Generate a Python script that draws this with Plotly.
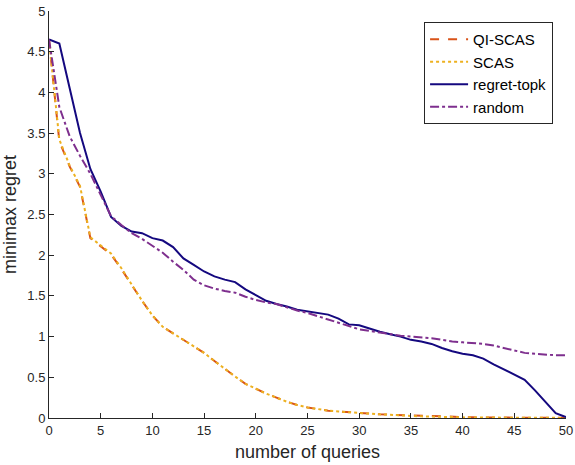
import plotly.graph_objects as go

queries = list(range(51))

qi_scas = [4.65, 3.40, 3.09, 2.84, 2.21, 2.11, 2.01, 1.83, 1.63, 1.44, 1.26,
           1.12, 1.04, 0.96, 0.88, 0.80, 0.70, 0.60, 0.51, 0.42, 0.36,
           0.30, 0.25, 0.20, 0.16, 0.13, 0.11, 0.09, 0.08, 0.07, 0.06,
           0.05, 0.045, 0.04, 0.035, 0.03, 0.025, 0.02, 0.015, 0.012, 0.01,
           0.008, 0.006, 0.005, 0.004, 0.004, 0.003, 0.003, 0.002, 0.002, 0.002]

scas = [4.65, 3.42, 3.10, 2.85, 2.22, 2.12, 2.02, 1.84, 1.64, 1.44, 1.26,
        1.12, 1.04, 0.96, 0.88, 0.80, 0.70, 0.60, 0.51, 0.42, 0.36,
        0.30, 0.25, 0.20, 0.16, 0.13, 0.11, 0.09, 0.08, 0.07, 0.06,
        0.05, 0.045, 0.04, 0.03, 0.025, 0.02, 0.015, 0.012, 0.01, 0.008,
        0.006, 0.005, 0.004, 0.003, 0.003, 0.002, 0.002, 0.001, 0.001, 0.001]

regret_topk = [4.65, 4.60, 4.05, 3.50, 3.06, 2.78, 2.47, 2.36, 2.29, 2.27, 2.21,
               2.18, 2.10, 1.96, 1.88, 1.80, 1.74, 1.70, 1.67, 1.58, 1.51,
               1.44, 1.40, 1.37, 1.33, 1.31, 1.29, 1.27, 1.22, 1.15, 1.14,
               1.10, 1.06, 1.03, 1.00, 0.96, 0.94, 0.91, 0.86, 0.82, 0.79,
               0.77, 0.73, 0.66, 0.60, 0.53, 0.47, 0.34, 0.20, 0.06, 0.01]

random_q = [4.65, 3.82, 3.46, 3.22, 3.00, 2.73, 2.48, 2.37, 2.27, 2.20, 2.12,
            2.03, 1.92, 1.82, 1.70, 1.63, 1.59, 1.56, 1.54, 1.49, 1.45,
            1.42, 1.40, 1.36, 1.32, 1.29, 1.25, 1.21, 1.17, 1.13, 1.09,
            1.07, 1.05, 1.03, 1.01, 1.00, 0.99, 0.98, 0.96, 0.94, 0.93,
            0.92, 0.91, 0.89, 0.86, 0.83, 0.80, 0.79, 0.78, 0.77, 0.77]

x_ticks = [0, 5, 10, 15, 20, 25, 30, 35, 40, 45, 50]
y_ticks = [0, 0.5, 1, 1.5, 2, 2.5, 3, 3.5, 4, 4.5, 5]
y_tick_text = ["0", "0.5", "1", "1.5", "2", "2.5", "3", "3.5", "4", "4.5", "5"]

fig = go.Figure()
fig.add_trace(go.Scatter(x=queries, y=qi_scas, mode="lines", name="QI-SCAS",
                         line=dict(color="#D95319", width=2, dash="dash")))
fig.add_trace(go.Scatter(x=queries, y=scas, mode="lines", name="SCAS",
                         line=dict(color="#EDB120", width=2, dash="dot")))
fig.add_trace(go.Scatter(x=queries, y=regret_topk, mode="lines", name="regret-topk",
                         line=dict(color="#14087F", width=2, dash="solid")))
fig.add_trace(go.Scatter(x=queries, y=random_q, mode="lines", name="random",
                         line=dict(color="#7E2F8E", width=2, dash="dashdot")))

axis_font = dict(family="Liberation Sans, Arial, sans-serif", size=13, color="#262626")
fig.update_layout(
    width=575, height=465,
    margin=dict(l=49, r=9, t=11, b=47),
    paper_bgcolor="white", plot_bgcolor="white",
    font=dict(family="Liberation Sans, Arial, sans-serif", color="#262626"),
    showlegend=True,
    legend=dict(x=0.975, y=0.973, xanchor="right", yanchor="top",
                bgcolor="white", bordercolor="#262626", borderwidth=1,
                font=dict(size=15, color="#000000"),
                tracegroupgap=0, itemwidth=38),
    xaxis=dict(range=[0, 50], tickvals=x_ticks, ticks="inside", ticklen=5,
               tickcolor="#262626", showline=True, linecolor="#262626", linewidth=1,
               showgrid=False, zeroline=False, tickfont=axis_font, automargin=False,
               ticklabeloverflow="allow",
               title=dict(text="number of queries", font=dict(size=18, color="#262626"), standoff=8)),
    yaxis=dict(range=[0, 5], tickvals=y_ticks, ticktext=y_tick_text, ticks="inside", ticklen=5,
               tickcolor="#262626", showline=True, linecolor="#262626", linewidth=1,
               showgrid=False, zeroline=False, tickfont=axis_font, automargin=False,
               ticklabeloverflow="allow",
               title=dict(text="minimax regret", font=dict(size=18, color="#262626"), standoff=6)),
)

# remove the browser's default 8px body margin so the figure sits at the page origin
fig.write_html("out.html",
               config={"displayModeBar": False},
               post_script="document.body.style.margin='0';document.body.style.overflow='hidden';")
